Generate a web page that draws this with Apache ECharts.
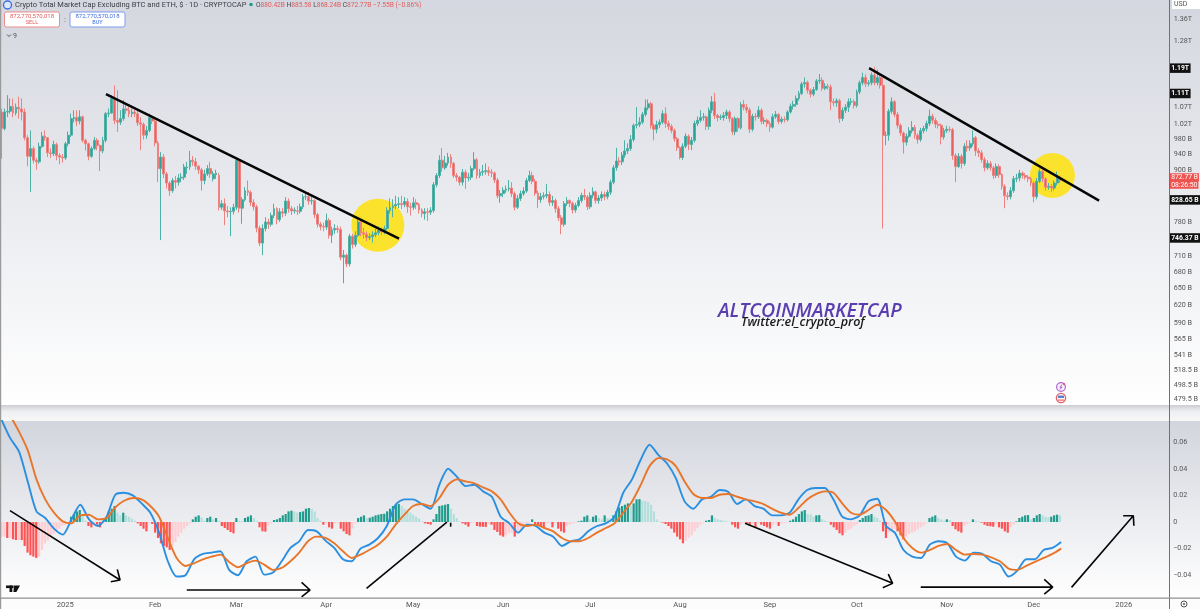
<!DOCTYPE html>
<html>
<head>
<meta charset="utf-8">
<title>Crypto Total Market Cap Excluding BTC and ETH</title>
<style>
  html, body { margin: 0; padding: 0; background: #fff; }
  #main { width: 1200px; height: 609px; }
</style>
<script src="https://cdn.jsdelivr.net/npm/echarts@6/dist/echarts.min.js"></script>
</head>
<body>
<div id="main"></div>
<script>
// daily candles in billions, first candle 2024-12-10
const opens = [
  1055,1008,1055,1057,1071,1052,1069,1064,1055,983,
  934,954,924,920,960,987,983,943,941,965,
  936,932,930,967,990,1036,1039,1029,1041,976,
  967,934,954,976,962,948,976,1050,1052,1095,
  1031,1026,1036,1064,1060,1050,1055,1050,1024,1020,
  990,1003,1039,1029,969,903,932,890,868,850,
  874,870,880,882,905,907,924,920,909,900,
  874,890,903,878,888,886,812,820,804,802,
  803,812,924,810,829,850,846,823,813,767,
  736,766,780,775,794,809,785,802,799,826,
  809,804,804,803,813,836,836,826,827,796,775,
  770,769,783,752,763,766,764,708,712,695,
  750,733,752,780,757,754,747,749,753,757,
  762,759,766,805,811,815,818,820,818,825,
  813,812,822,818,806,798,802,801,805,864,
  886,924,905,917,932,916,886,882,870,894,
  880,882,903,925,886,894,896,898,894,892,
  875,838,843,851,854,856,843,812,832,843,
  849,874,886,872,844,829,836,838,841,823,
  827,809,789,775,820,827,821,806,816,827,
  839,835,813,839,847,827,833,841,836,846,
  870,905,922,920,937,948,954,978,1017,1019,
  1026,1048,1067,1079,1017,1006,1019,1026,1050,1022,
  1014,1003,980,956,931,960,987,965,976,1022,
  1031,1039,1041,1014,1060,1085,1045,1039,1039,1045,1055,
  1036,999,1036,1010,1077,1069,1061,1006,1043,1041,
  1060,1028,1031,1022,1012,1041,1048,1028,1034,1033,
  1055,1072,1077,1095,1110,1139,1144,1120,1108,1122,
  1149,1151,1126,1132,1130,1085,1082,1088,1036,1060,
  1069,1085,1085,1074,1115,1143,1160,1140,1143,1168,
  1143,1160,1135,989,990,1057,1085,1048,1017,996,
  971,987,1002,1011,990,978,1002,1008,1022,1043,
  1031,1020,1017,985,1002,1006,1005,936,908,934,
  916,960,956,967,983,948,943,926,905,916,
  905,886,908,888,860,838,836,850,878,880,
  892,886,882,878,868,836,872,896,878,858,
  860,856,868,880.42
];
const closes = [
  1008,1055,1057,1071,1052,1069,1064,1055,983,934,
  954,924,920,960,987,983,943,941,965,936,
  932,930,967,990,1036,1039,1029,1041,976,967,
  934,954,976,962,948,976,1050,1052,1095,1031,
  1026,1036,1064,1060,1050,1055,1050,1024,1020,990,
  1003,1039,1029,969,903,932,890,868,850,874,
  870,880,882,907,907,924,920,909,900,874,
  890,903,890,890,892,812,820,804,802,803,
  812,924,810,829,850,846,823,813,767,736,
  766,780,775,794,809,785,802,799,826,809,
  804,806,803,813,836,836,826,827,796,775,770,
  769,783,752,763,766,764,708,712,695,750,
  733,752,780,757,754,747,749,753,757,762,
  759,766,805,811,815,818,820,818,825,813,
  812,822,818,806,798,802,801,805,864,886,
  924,905,917,932,916,886,882,870,894,880,
  882,903,925,886,894,896,898,894,892,875,
  838,843,851,854,856,843,812,832,843,849,
  874,886,872,844,829,836,838,841,823,827,
  809,789,775,820,827,821,806,816,827,839,
  835,813,839,847,827,833,841,836,846,870,
  905,922,920,937,948,954,978,1017,1019,1026,
  1048,1067,1079,1017,1006,1019,1026,1050,1022,1014,
  1003,980,956,931,960,987,965,976,1022,1031,
  1039,1041,1014,1060,1085,1045,1039,1041,1045,1055,1036,
  999,1036,1010,1077,1069,1061,1006,1043,1041,1060,
  1028,1031,1022,1012,1041,1048,1028,1034,1033,1055,
  1072,1077,1095,1110,1139,1144,1120,1108,1122,1149,
  1151,1126,1132,1130,1085,1082,1088,1036,1060,1069,
  1085,1085,1074,1115,1143,1160,1140,1143,1168,1143,
  1160,1135,989,990,1057,1085,1048,1017,996,971,
  987,1002,1011,990,978,1002,1008,1022,1043,1031,
  1020,1017,985,1002,1006,1005,936,908,934,916,
  960,956,967,983,948,943,926,905,916,905,
  886,908,888,860,838,836,850,878,880,892,
  886,882,878,868,836,872,896,878,858,860,
  856,868,880,872.77
];
const highs = [
  1065,1065,1105,1095,1095,1080,1100,1095,1065,990,
  1003,960,930,970,999,1003,985,955,975,970,
  942,940,972,1000,1050,1060,1060,1060,1045,980,
  970,960,985,982,965,985,1055,1065,1105,1135,
  1120,1060,1090,1075,1070,1065,1062,1064,1040,1025,
  1015,1050,1045,1035,975,945,940,895,872,880,
  885,890,892,915,920,948,935,930,912,905,
  900,912,920,897,900,892,828,832,815,812,
  820,932,930,835,858,874,850,830,818,772,
  775,790,787,800,820,812,810,810,835,832,
  815,812,815,820,842,847,847,838,830,800,780,
  778,798,788,770,775,772,770,722,715,755,
  755,760,790,785,768,760,756,760,765,770,
  768,772,812,832,830,838,835,838,835,832,
  822,835,830,822,810,810,810,812,870,892,
  937,956,935,943,940,920,892,885,902,900,
  892,910,945,930,902,912,916,908,902,896,
  880,852,858,862,875,870,848,840,850,858,
  880,898,895,878,850,845,846,866,848,838,
  832,815,795,826,835,830,825,822,835,845,
  854,840,846,858,850,840,848,848,852,876,
  912,956,932,945,976,968,990,1022,1069,1040,
  1055,1092,1092,1085,1022,1030,1034,1060,1069,1030,
  1020,1008,985,960,968,995,992,985,1030,1042,
  1060,1052,1045,1068,1102,1112,1050,1048,1055,1062,1060,
  1040,1042,1040,1084,1090,1078,1068,1050,1052,1072,
  1066,1040,1036,1028,1050,1058,1052,1042,1042,1060,
  1080,1088,1104,1118,1146,1160,1150,1125,1130,1155,
  1171,1160,1142,1140,1138,1095,1096,1094,1068,1078,
  1095,1096,1092,1122,1150,1175,1170,1152,1176,1193,
  1185,1170,1160,1000,1064,1098,1090,1055,1022,1000,
  995,1012,1029,1018,995,1010,1016,1030,1062,1050,
  1038,1028,1022,1010,1016,1014,1010,942,942,940,
  968,976,976,1003,988,955,950,932,924,922,
  910,916,914,892,865,846,858,885,890,900,
  896,892,887,882,872,880,903,900,882,868,
  866,874,896,885.58
];
const lows = [
  928,1003,1040,1050,1040,1045,1036,1031,976,909,
  847,916,900,915,955,975,932,930,935,924,
  914,918,925,960,985,1025,1015,1020,970,949,
  924,930,950,950,897,942,970,1040,1050,1020,
  999,1018,1030,1050,1040,1040,1040,1015,950,978,
  980,998,1020,960,870,742,880,855,838,845,
  855,862,870,875,890,900,910,900,890,850,
  865,885,880,872,878,805,806,773,790,750,
  796,806,800,776,825,838,815,805,758,730,
  712,760,765,770,788,775,780,790,793,800,
  795,798,795,798,808,828,818,818,788,768,762,
  760,763,745,736,755,757,702,659,689,690,
  725,728,748,750,745,740,742,737,748,752,
  752,754,762,798,790,808,810,808,812,800,
  794,806,808,798,790,785,782,795,800,858,
  880,895,900,910,905,880,872,862,862,854,
  872,875,898,878,880,885,888,885,882,868,
  832,822,835,845,848,835,805,808,826,838,
  845,870,865,838,810,822,830,832,815,815,
  800,782,754,770,815,812,798,800,812,822,
  828,806,808,832,820,820,826,828,830,840,
  865,898,910,912,930,940,948,972,1008,1012,
  1020,1042,1060,1008,976,995,1010,1020,1010,1004,
  995,972,948,926,925,955,950,950,970,1015,
  1025,1030,1004,1005,1052,1035,1028,1032,1030,1035,1026,
  990,990,1000,1005,1060,1052,996,1000,1030,1035,
  1020,1020,1012,999,1008,1035,1020,1022,1025,1028,
  1050,1062,1070,1088,1105,1128,1110,1098,1102,1118,
  1140,1118,1120,1122,1060,1072,1070,1024,1029,1052,
  1055,1075,1065,1068,1108,1135,1130,1132,1135,1135,
  1135,1125,766,963,975,1050,1040,1008,988,941,
  962,982,995,980,967,972,995,1000,1015,1022,
  1010,1008,965,978,996,998,925,870,905,903,
  910,946,948,960,935,932,918,896,900,898,
  878,880,880,852,810,828,830,845,870,872,
  878,876,870,860,823,830,868,870,850,852,
  847,850,862,868.24
];

// macd lines, one reading every third day or so
const macdLine = [
  .077,.063,.053,.0305,.008,.003,-.005,-.0095,.002,.013,.002,-.003,.004,.0205,.022,.02,.014,.007,-.008,-.0295,
  -.041,-.04,-.028,-.024,-.023,-.022,-.036,-.04,-.0295,-.026,-.0395,-.038,-.0295,-.0195,-.0145,-.006,-.007,-.014,-.0195,-.028,
  -.0295,-.02,-.017,-.012,-.003,.013,.017,.017,.0135,.01,.028,.04,.034,.027,.028,.023,.019,.004,-.001,-.008,
  -.002,-.003,-.008,-.011,-.018,-.0145,-.013,-.007,-.003,-.001,.004,.022,.032,.047,.058,.0505,.044,.033,.0155,.01,
  .017,.019,.024,.0225,.0135,.017,.012,.01,.005,.005,.007,.017,.024,.0255,.0255,.017,.004,.002,.005,.0155,
  .0175,-.003,-.008,-.021,-.026,-.027,-.017,-.0145,-.016,-.026,-.029,-.023,-.024,-.0295,-.032,-.041,-.0365,-.028,-.028,-.021,
  -.0195,-.015
];
const signalLine = [
  .092,.08,.068,.054,.032,.017,.007,.0005,-.001,.005,.0055,.002,.003,.011,.016,.018,.017,.012,.004,-.012,
  -.027,-.033,-.031,-.028,-.026,-.0245,-.03,-.034,-.031,-.029,-.032,-.036,-.0345,-.0295,-.023,-.0145,-.011,-.012,-.016,-.022,
  -.027,-.0245,-.021,-.017,-.011,-.002,.0055,.012,.0135,.012,.018,.028,.032,.0305,.029,.026,.023,.017,.007,-.001,
  -.003,-.002,-.0045,-.007,-.012,-.0145,-.0145,-.012,-.008,-.0045,-.001,.007,.0155,.028,.042,.048,.047,.042,.0305,.021,
  .018,.018,.0205,.021,.019,.017,.0155,.0135,.01,.007,.0055,.0105,.017,.021,.023,.022,.014,.007,.0055,.009,
  .013,.009,.0005,-.012,-.0195,-.023,-.021,-.018,-.0165,-.021,-.0245,-.024,-.0245,-.0265,-.0295,-.035,-.036,-.033,-.03,-.027,
  -.024,-.02
];
// histogram, one bar a day
const macdHist = [
  -.011,-.011,-.012,-.012,-.013,-.0135,-.0135,-.0136,-.018,-.023,-.025,-.026,-.027,-.026,-.021,-.016,-.014,-.011,-.009,-.007,
  -.005,-.003,-.002,-.0005,.004,.006,.008,.009,.005,.001,-.003,-.004,-.001,-.002,-.004,-.001,.003,.008,.01,.012,
  .007,.005,.007,.005,.004,.0025,.001,-.001,-.003,-.005,-.007,-.001,-.0015,-.008,-.012,-.016,-.018,-.019,-.021,-.018,
  -.015,-.011,-.008,-.005,-.003,-.001,.002,.004,.005,.0035,.001,.003,.004,.002,.003,.001,-.003,-.0045,-.006,-.0075,
  -.0085,.003,.001,.0008,.003,.004,.005,.003,.001,-.004,-.007,-.0072,-.003,-.001,.0015,.002,.003,.005,.006,.008,
  .0085,.0078,.007,.0075,.008,.01,.0105,.01,.008,.003,.001,-.002,-.001,-.004,-.005,-.001,-.0008,-.005,-.007,-.009,-.01,
  -.005,-.001,.003,.004,.005,.003,.0032,.004,.005,.0055,.006,.0062,.008,.01,.012,.013,.0135,.012,.01,.008,
  .007,.0055,.004,.0025,.0005,-.001,-.0015,-.002,.002,.006,.012,.0125,.013,.0135,.01,.006,.003,.0005,-.001,-.002,
  -.0035,-.001,-.0005,-.003,-.0035,-.0036,-.0037,-.0015,-.002,-.006,-.0075,-.01,-.011,-.01,-.008,-.0078,-.011,-.007,-.005,-.003,
  -.001,-.0005,.002,-.002,-.003,-.0035,-.0038,-.001,-.0008,-.004,-.001,-.005,-.007,-.008,-.003,-.002,-.001,-.0005,.0005,.001,
  .004,.005,.002,.004,.005,.003,.002,.005,.003,.0028,.005,.008,.011,.012,.013,.014,.012,.014,.017,.0172,
  .016,.0158,.015,.013,.008,.002,.0005,-.0005,-.0015,-.003,-.005,-.008,-.011,-.013,-.016,-.014,-.012,-.01,-.007,-.0045,
  -.002,-.0005,.001,.0015,.005,.003,.002,.0015,.001,.0005,.0002,-.002,-.004,-.005,-.002,-.0005,-.001,-.003,-.001,-.004,-.001,
  -.002,-.003,-.004,-.005,-.002,-.001,-.003,-.001,-.0005,-.0004,.001,.002,.004,.006,.008,.009,.006,.0058,.004,.005,
  .0052,.002,.001,.0005,-.002,-.004,-.006,-.0085,-.01,-.008,-.006,-.005,-.003,-.0015,.0015,.003,.0045,.005,.006,.004,
  .003,.001,-.007,-.012,-.008,-.006,-.005,-.007,-.01,-.013,-.011,-.009,-.008,-.007,-.0055,-.004,-.0025,-.0005,.003,.004,
  .005,.003,.002,.001,.002,.0015,-.003,-.0055,-.007,-.008,-.003,-.0015,-.0005,.002,.001,.0005,-.0005,-.002,-.003,-.0032,
  -.0035,-.0015,-.004,-.005,-.007,-.008,-.004,-.002,.0005,.003,.004,.005,.0052,.002,.003,.005,.006,.005,.004,.0035,
  .004,.005,.0055,.005
];

const totalDays = 403; // axis runs on past the last candle
const macdStep = 3.02; // days between the macd readings

const priceTicks = [1360,1280,1190,1110,1070,1020,980,940,900,872.77,828.65,780,746.37,710,680,650,620,590,565,541,518.5,498.5,479.5];
const priceLabels = ['1.36T','1.28T','1.19T','1.11T','1.07T','1.02T','980 B','940 B','900 B','872.77 B','828.65 B','780 B','746.37 B','710 B','680 B','650 B','620 B','590 B','565 B','541 B','518.5 B','498.5 B','479.5 B'];
const taggedPrices = [1190,1110,828.65,746.37];
const countdown = '08:26:50';
const macdTicks = [.06,.04,.02,0,-.02,-.04];
const macdTickLabels = ['0.06','0.04','0.02','0','−0.02','−0.04'];

// hand drawn marks, [day, value]
const trendLines = [[[36.05,1108],[137.1,745]],[[299.2,1190],[378.5,827]]];
const highlights = [[129.8,773,53],[362.4,886,45]];
const arrows = [
  [[2.95,.0085],[40.9,-.0436],[39.95,-.0356],[40.9,-.0436],[37.7,-.0449]],
  [[63.9,-.0511],[106.4,-.0511],[103.5,-.0453],[106.4,-.0511],[103.5,-.0562]],
  [[125.9,-.0499],[153.6,0]],
  [[154.9,-.0005],[154.9,-.0035]],
  [[256.4,-.001],[307.3,-.0461],[305.8,-.0391],[307.3,-.0461],[303.9,-.0494]],
  [[317,-.0489],[362.5,-.0489],[359.6,-.0431],[362.5,-.0489],[359.6,-.0541]],
  [[369,-.0491],[390.3,.0047],[386.8,.0047],[390.3,.0047],[390.5,-.0028]]
];

const monthNames = ['','Feb','Mar','Apr','May','Jun','Jul','Aug','Sep','Oct','Nov','Dec'];

const dates = []
for (let i = 0; i < totalDays; i++) {
  const d = new Date(Date.UTC(2024, 11, 10 + i))
  dates.push(d.toISOString().slice(0, 10))
}

const candles = closes.map((c, i) => [opens[i], c, lows[i], highs[i]])
const macdPoints = macdLine.map((v, i) => [i * macdStep, v])
const signalPoints = signalLine.map((v, i) => [i * macdStep, v])
const histBars = macdHist.map((v, i) => {
  const prev = i ? macdHist[i - 1] : v
  let color
  if (v >= 0) color = v >= prev ? '#1f9c8d' : '#b2dfdb'
  else color = v < prev ? '#ff5252' : '#ffcdd2'
  return { value: v, itemStyle: { color } }
})

const uiFont = 'Roboto, "Liberation Sans", sans-serif'
const vertical = (a, b) => ({ type: 'linear', x: 0, y: 0, x2: 0, y2: 1, colorStops: [{ offset: 0, color: a }, { offset: 1, color: b }] })
const band = (y, h, fill) => ({ type: 'rect', z: -10, shape: { x: 0, y, width: 1200, height: h }, style: { fill } })
const txt = (x, y, text, fill, size, extra) => ({
  type: 'text', z: 20, x, y,
  style: Object.assign({ text, fill, font: `${size}px ${uiFont}`, verticalAlign: 'middle' }, extra || {})
})

const graphics = [
  band(0, 405, vertical('#d4d7df', '#ffffff')),
  band(405, 16, { type: 'linear', x: 0, y: 0, x2: 0, y2: 1, colorStops: [{ offset: 0, color: '#ccced4' }, { offset: .4, color: '#eeeff1' }, { offset: 1, color: '#f8f8f9' }] }),
  band(421, 177, vertical('#d2d5dd', '#ffffff')),
  band(598, 11, '#fcfcfc'),
  { type: 'rect', z: 15, shape: { x: 0, y: 0, width: 1.2, height: 609 }, style: { fill: '#9a9a9a' } },
  { type: 'rect', z: 15, shape: { x: 1169, y: 0, width: 1, height: 609 }, style: { fill: '#6f7176' } },
  { type: 'rect', z: 15, shape: { x: 0, y: 597.5, width: 1200, height: 1.2 }, style: { fill: '#8f9196' } },

  // header
  { type: 'circle', z: 20, shape: { cx: 7.5, cy: 5, r: 4 }, style: { fill: '#dfe8fb', stroke: '#3d6fe0', lineWidth: 1.4 } },
  txt(15, 5, 'Crypto Total Market Cap Excluding BTC and ETH, $ · 1D · CRYPTOCAP', '#3a3d45', 7.5),
  { type: 'circle', z: 20, shape: { cx: 251, cy: 4.5, r: 1.8 }, style: { fill: '#1f9c8d' } },
  {
    type: 'text', z: 20, x: 256, y: 5,
    style: {
      text: '{k|O}{v|880.42B} {k|H}{v|885.58} {k|L}{v|868.24B} {k|C}{v|872.77B −7.55B (−0.86%)}',
      verticalAlign: 'middle', font: `6.6px ${uiFont}`,
      rich: { k: { fill: '#44474f', font: `6.6px ${uiFont}` }, v: { fill: '#e25b5b', font: `6.6px ${uiFont}` } }
    }
  },
  { type: 'rect', z: 20, shape: { x: 4.5, y: 12, width: 55, height: 15, r: 2 }, style: { fill: '#fff', stroke: '#ee8b8b', lineWidth: 1 } },
  txt(32, 16.5, '872,770,570,018', '#e25b5b', 6, { align: 'center' }),
  txt(32, 23, 'SELL', '#e25b5b', 5.5, { align: 'center' }),
  txt(65, 19.5, ':', '#555', 8, { align: 'center' }),
  { type: 'rect', z: 20, shape: { x: 70, y: 12, width: 55, height: 15, r: 2 }, style: { fill: '#fff', stroke: '#7f9df0', lineWidth: 1 } },
  txt(97.5, 16.5, '872,770,570,018', '#3d6fe0', 6, { align: 'center' }),
  txt(97.5, 23, 'BUY', '#3d6fe0', 5.5, { align: 'center' }),
  { type: 'polyline', z: 20, shape: { points: [[7, 34.5], [9, 36.5], [11, 34.5]] }, style: { stroke: '#555', fill: null, lineWidth: 1 } },
  txt(13, 36, '9', '#555', 7),

  // right scale furniture
  { type: 'rect', z: 20, shape: { x: 1172, y: 0, width: 28, height: 9 }, style: { fill: '#fff' } },
  txt(1174, 4.5, 'USD', '#555', 7),
  { type: 'circle', z: 20, shape: { cx: 1184, cy: 604, r: 3 }, style: { fill: 'none', stroke: '#555', lineWidth: 1 } },
  { type: 'circle', z: 20, shape: { cx: 1184, cy: 604, r: 1 }, style: { fill: '#555' } },

  // watermark
  txt(718, 311.5, 'ALTCOINMARKETCAP', '#5a3eb0', 19, { font: `italic 600 19.5px "Open Sans", ${uiFont}` }),
  txt(741, 322, 'Twitter:el_crypto_prof', '#1a1a1a', 12, { font: `italic 600 12.5px "Open Sans", ${uiFont}` }),

  // event badges
  { type: 'circle', z: 20, shape: { cx: 1061, cy: 387, r: 4.4 }, style: { fill: '#f4effa', stroke: '#b467d3', lineWidth: 1.2 } },
  { type: 'polyline', z: 21, shape: { points: [[1062, 384.5], [1060, 387.5], [1062, 387], [1060, 389.5]] }, style: { stroke: '#a14fc8', fill: null, lineWidth: .8 } },
  { type: 'circle', z: 21, shape: { cx: 1064, cy: 384, r: 1 }, style: { fill: '#e0455a' } },
  { type: 'circle', z: 20, shape: { cx: 1061, cy: 398, r: 4.6 }, style: { fill: '#ffffff', stroke: '#e8616a', lineWidth: 1.4 } },
  { type: 'rect', z: 21, shape: { x: 1058, y: 395.5, width: 6, height: 2.5 }, style: { fill: '#5b7fcf' } },
  { type: 'rect', z: 21, shape: { x: 1058, y: 399.5, width: 6, height: 1.2 }, style: { fill: '#e8616a' } },

  // tv logo
  { type: 'rect', z: 20, shape: { x: 6, y: 585.5, width: 7.5, height: 2.6 }, style: { fill: '#111' } },
  { type: 'rect', z: 20, shape: { x: 9.5, y: 585.5, width: 2.8, height: 6.5 }, style: { fill: '#111' } },
  { type: 'polygon', z: 20, shape: { points: [[14, 585.5], [20, 585.5], [16.4, 592], [13.4, 592]] }, style: { fill: '#111' } }
]

// hidden value axes so hand drawn marks can sit between two days
const dayAxis = gridIndex => ({ type: 'value', gridIndex, min: -.5, max: totalDays - .5, show: false })
const drawnLine = (points, x, y, width) => ({
  type: 'line', xAxisIndex: x, yAxisIndex: y, z: 6, silent: true, showSymbol: false, clip: false,
  data: points, lineStyle: { color: '#060606', width }
})

const chart = echarts.init(document.getElementById('main'), null, { renderer: 'canvas' })

chart.setOption({
  animation: false,
  backgroundColor: 'transparent',
  textStyle: { fontFamily: uiFont },
  graphic: { elements: graphics },
  grid: [
    { left: 0, top: 0, width: 1168.7, height: 405, outerBoundsMode: 'none' },
    { left: 0, top: 421, width: 1168.7, height: 177, outerBoundsMode: 'none' }
  ],
  xAxis: [
    {
      type: 'category', gridIndex: 0, data: dates,
      axisLine: { show: false }, axisTick: { show: false }, axisLabel: { show: false }, splitLine: { show: false }
    },
    {
      type: 'category', gridIndex: 1, data: dates,
      axisLine: { show: false }, axisTick: { show: false }, splitLine: { show: false },
      axisLabel: {
        color: '#555', fontSize: 7.6, margin: 3,
        interval: (i, v) => v.slice(8) === '01',
        formatter: v => {
          const m = +v.slice(5, 7)
          return m === 1 ? v.slice(0, 4) : monthNames[m - 1]
        }
      }
    },
    dayAxis(0),
    dayAxis(1)
  ],
  yAxis: [
    {
      type: 'log', logBase: 10, gridIndex: 0, position: 'right', min: 471.7, max: 1435,
      axisLine: { show: false }, axisTick: { show: false }, splitLine: { show: false },
      axisLabel: {
        customValues: priceTicks, margin: .5, align: 'left', color: '#555', fontSize: 7.2,
        formatter: v => {
          const i = priceTicks.findIndex(t => Math.abs(t - v) < .01)
          const label = i < 0 ? '' : priceLabels[i]
          if (v === 872.77) return `{live|${label}}\n{live|${countdown}}`
          return taggedPrices.includes(v) ? `{tag|${label}}` : `{plain|${label}}`
        },
        rich: {
          plain: { color: '#555', fontSize: 7.2, padding: [0, 0, 0, 4.5] },
          tag: { backgroundColor: '#111', color: '#fff', fontSize: 6.8, padding: [1.5, 1.5, 1, 2], fontWeight: 'bold' },
          live: { backgroundColor: '#ef5350', color: '#fff', fontSize: 6.8, padding: [1, 1, 0, 2], lineHeight: 7.5 }
        }
      }
    },
    {
      type: 'value', gridIndex: 1, position: 'right', min: -.0571, max: .0759,
      axisLine: { show: false }, axisTick: { show: false }, splitLine: { show: false },
      axisLabel: {
        customValues: macdTicks, margin: 4.5, color: '#555', fontSize: 7.2,
        formatter: v => macdTickLabels[macdTicks.findIndex(t => Math.abs(t - v) < 1e-6)] || ''
      }
    }
  ],
  series: [
    {
      name: 'highlight', type: 'scatter', xAxisIndex: 2, yAxisIndex: 0, z: 1, silent: true,
      data: highlights.map(h => [h[0], h[1]]),
      symbolSize: (v, p) => highlights[p.dataIndex][2],
      itemStyle: { color: '#fbe32d', opacity: 1 }
    },
    {
      name: 'Crypto Total Market Cap', type: 'candlestick', xAxisIndex: 0, yAxisIndex: 0, z: 3,
      barWidth: 2.4, data: candles,
      itemStyle: { color: '#26a69a', color0: '#e8605f', borderColor: '#4fb0a5', borderColor0: '#ee8280', borderWidth: 1 }
    },
    {
      name: 'Histogram', type: 'bar', xAxisIndex: 1, yAxisIndex: 1, barWidth: 2.2, z: 2, data: histBars
    },
    {
      name: 'MACD', type: 'line', xAxisIndex: 3, yAxisIndex: 1, z: 3, smooth: .25, showSymbol: false,
      data: macdPoints, lineStyle: { color: '#2b8fe0', width: 1.9 }
    },
    {
      name: 'Signal', type: 'line', xAxisIndex: 3, yAxisIndex: 1, z: 4, smooth: .25, showSymbol: false,
      data: signalPoints, lineStyle: { color: '#e8762a', width: 1.9 }
    },
    ...trendLines.map(l => drawnLine(l, 2, 0, 2.4)),
    ...arrows.map(a => drawnLine(a, 3, 1, 1.6))
  ]
})
</script>
</body>
</html>
